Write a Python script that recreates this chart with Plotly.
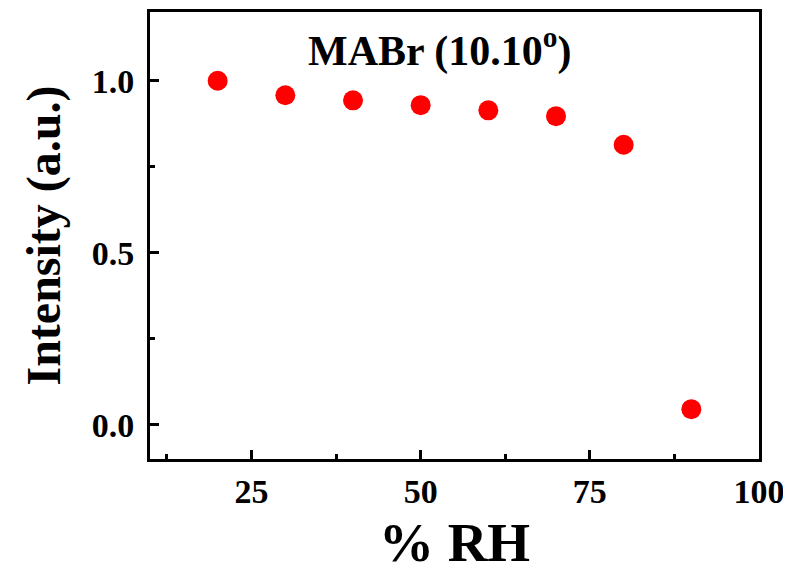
import plotly.graph_objects as go

rh = [20, 30, 40, 50, 60, 70, 80, 90]
intensity = [1.0, 0.958, 0.943, 0.929, 0.914, 0.897, 0.814, 0.045]
x_ticks = [25, 50, 75, 100]
y_ticks = [0.0, 0.5, 1.0]
y_tick_labels = ["0.0", "0.5", "1.0"]

FONT = "Liberation Serif"

fig = go.Figure()
fig.add_trace(go.Scatter(
    x=rh, y=intensity, mode="markers",
    marker=dict(color="#ff0000", size=20, line=dict(width=0)),
    showlegend=False,
))

axis_common = dict(
    showline=True, linecolor="black", linewidth=3, mirror=True,
    ticks="inside", ticklen=9, tickwidth=2.5, tickcolor="black",
    showgrid=False, zeroline=False, automargin=False,
    tickfont=dict(family=FONT, size=34, color="black", weight="bold"),
)

fig.update_xaxes(
    range=[10, 100], tickvals=x_ticks,
    minor=dict(ticks="inside", ticklen=5, tickwidth=2.5, tickcolor="black", dtick=12.5, tick0=0),
    title=dict(text="% RH", font=dict(family=FONT, size=55, color="black", weight="bold"), standoff=28),
    ticklabelstandoff=0,
    **axis_common,
)
fig.update_yaxes(
    range=[-0.1, 1.2], tickvals=y_ticks, ticktext=y_tick_labels,
    minor=dict(ticks="inside", ticklen=5, tickwidth=2.5, tickcolor="black", dtick=0.25, tick0=0),
    title=dict(text="Intensity (a.u.)", font=dict(family=FONT, size=48, color="black", weight="bold"), standoff=16),
    ticklabelstandoff=6,
    **axis_common,
)

fig.add_annotation(
    text="MABr (10.10<sup>o</sup>)", xref="paper", yref="paper",
    x=0.477, y=0.919, yanchor="middle", xanchor="center", showarrow=False,
    font=dict(family=FONT, size=42, color="black", weight="bold"),
)

fig.update_layout(
    width=783, height=565,
    margin=dict(l=142, r=32, t=4, b=114),
    plot_bgcolor="white", paper_bgcolor="white",
)

fig.write_html("out.html")
